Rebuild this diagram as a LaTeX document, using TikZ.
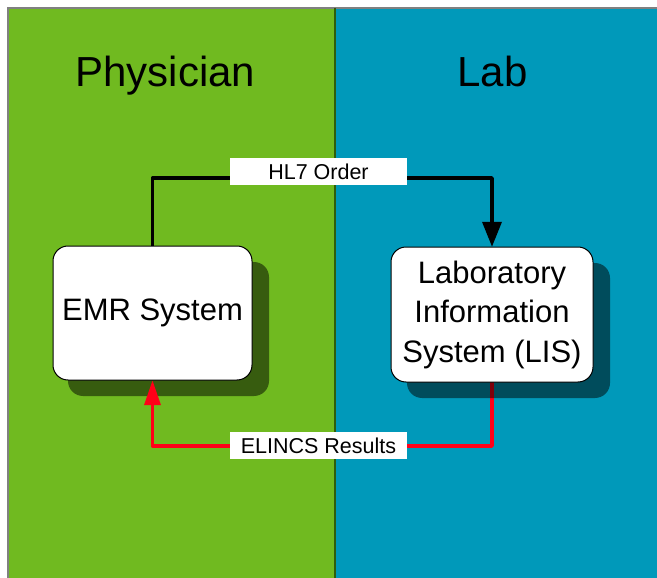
\documentclass[tikz,border=0pt]{standalone}
\usepackage{fontspec}
\setmainfont{Liberation Sans}
\usetikzlibrary{arrows.meta}
\definecolor{phygreen}{HTML}{70BA20}
\definecolor{labblue}{HTML}{0099BA}
\definecolor{divgreen}{HTML}{2F5E0C}
\definecolor{arrred}{HTML}{FF0018}
\tikzset{
  sysbox/.style={draw=black, line width=1pt, fill=white, rounded corners=15pt, align=center, font=\fontsize{31}{39.5}\selectfont, inner sep=0pt},
  shadowbox/.style={fill=black, fill opacity=0.5, rounded corners=15pt},
  title/.style={font=\fontsize{42}{45}\selectfont, anchor=base},
  msglabel/.style={fill=white, minimum width=177pt, minimum height=27pt, inner sep=0pt, font=\fontsize{21.5}{24}\selectfont},
  msgline/.style={line width=3.5pt, line join=round}
}
\begin{document}
\begin{tikzpicture}[x=1pt,y=-1pt]
\useasboundingbox (0,0) rectangle (657,578);
% panels
\fill[phygreen] (8,8) rectangle (335,578);
\fill[labblue] (335,8) rectangle (657,578);
\draw[gray, line width=1.5pt] (8,578) -- (8,8) -- (657,8);
\draw[divgreen, line width=1.5pt] (335,8) -- (335,578);
% titles
\node[title] (phy) at (165.5,87) {Physician};
\node[title] (lab) at (492.5,87) {Lab};
% EMR shadow (under connectors)
\fill[shadowbox] (68,262) rectangle (269,396);
% anchors for the boxes
\node[minimum width=199pt, minimum height=134pt, inner sep=0pt] (emr) at (152.5,313) {};
\node[minimum width=202pt, minimum height=135pt, inner sep=0pt] (lis) at (492,314.5) {};
% connectors
\draw[msgline, -{Triangle[length=25pt,width=19pt]}] (emr.north) -- (emr.north |- 0,178) -| (lis.north);
\draw[msgline, arrred, -{Triangle[length=25pt,width=16pt]}] (lis.south) -- (lis.south |- 0,446) -| (emr.south);
% LIS shadow (over red line)
\fill[shadowbox] (407,263) rectangle (610,398);
% boxes
\node[sysbox, minimum width=199pt, minimum height=134pt] (emrbox) at (emr.center) {EMR System};
\node[sysbox, minimum width=202pt, minimum height=135pt] (lisbox) at (lis.center) {Laboratory\\Information\\System (LIS)};
% labels
\node[msglabel] (hl7) at (318.5,171.5) {HL7 Order};
\node[msglabel] (elincs) at (318.5,445.5) {ELINCS Results};
\end{tikzpicture}
\end{document}
